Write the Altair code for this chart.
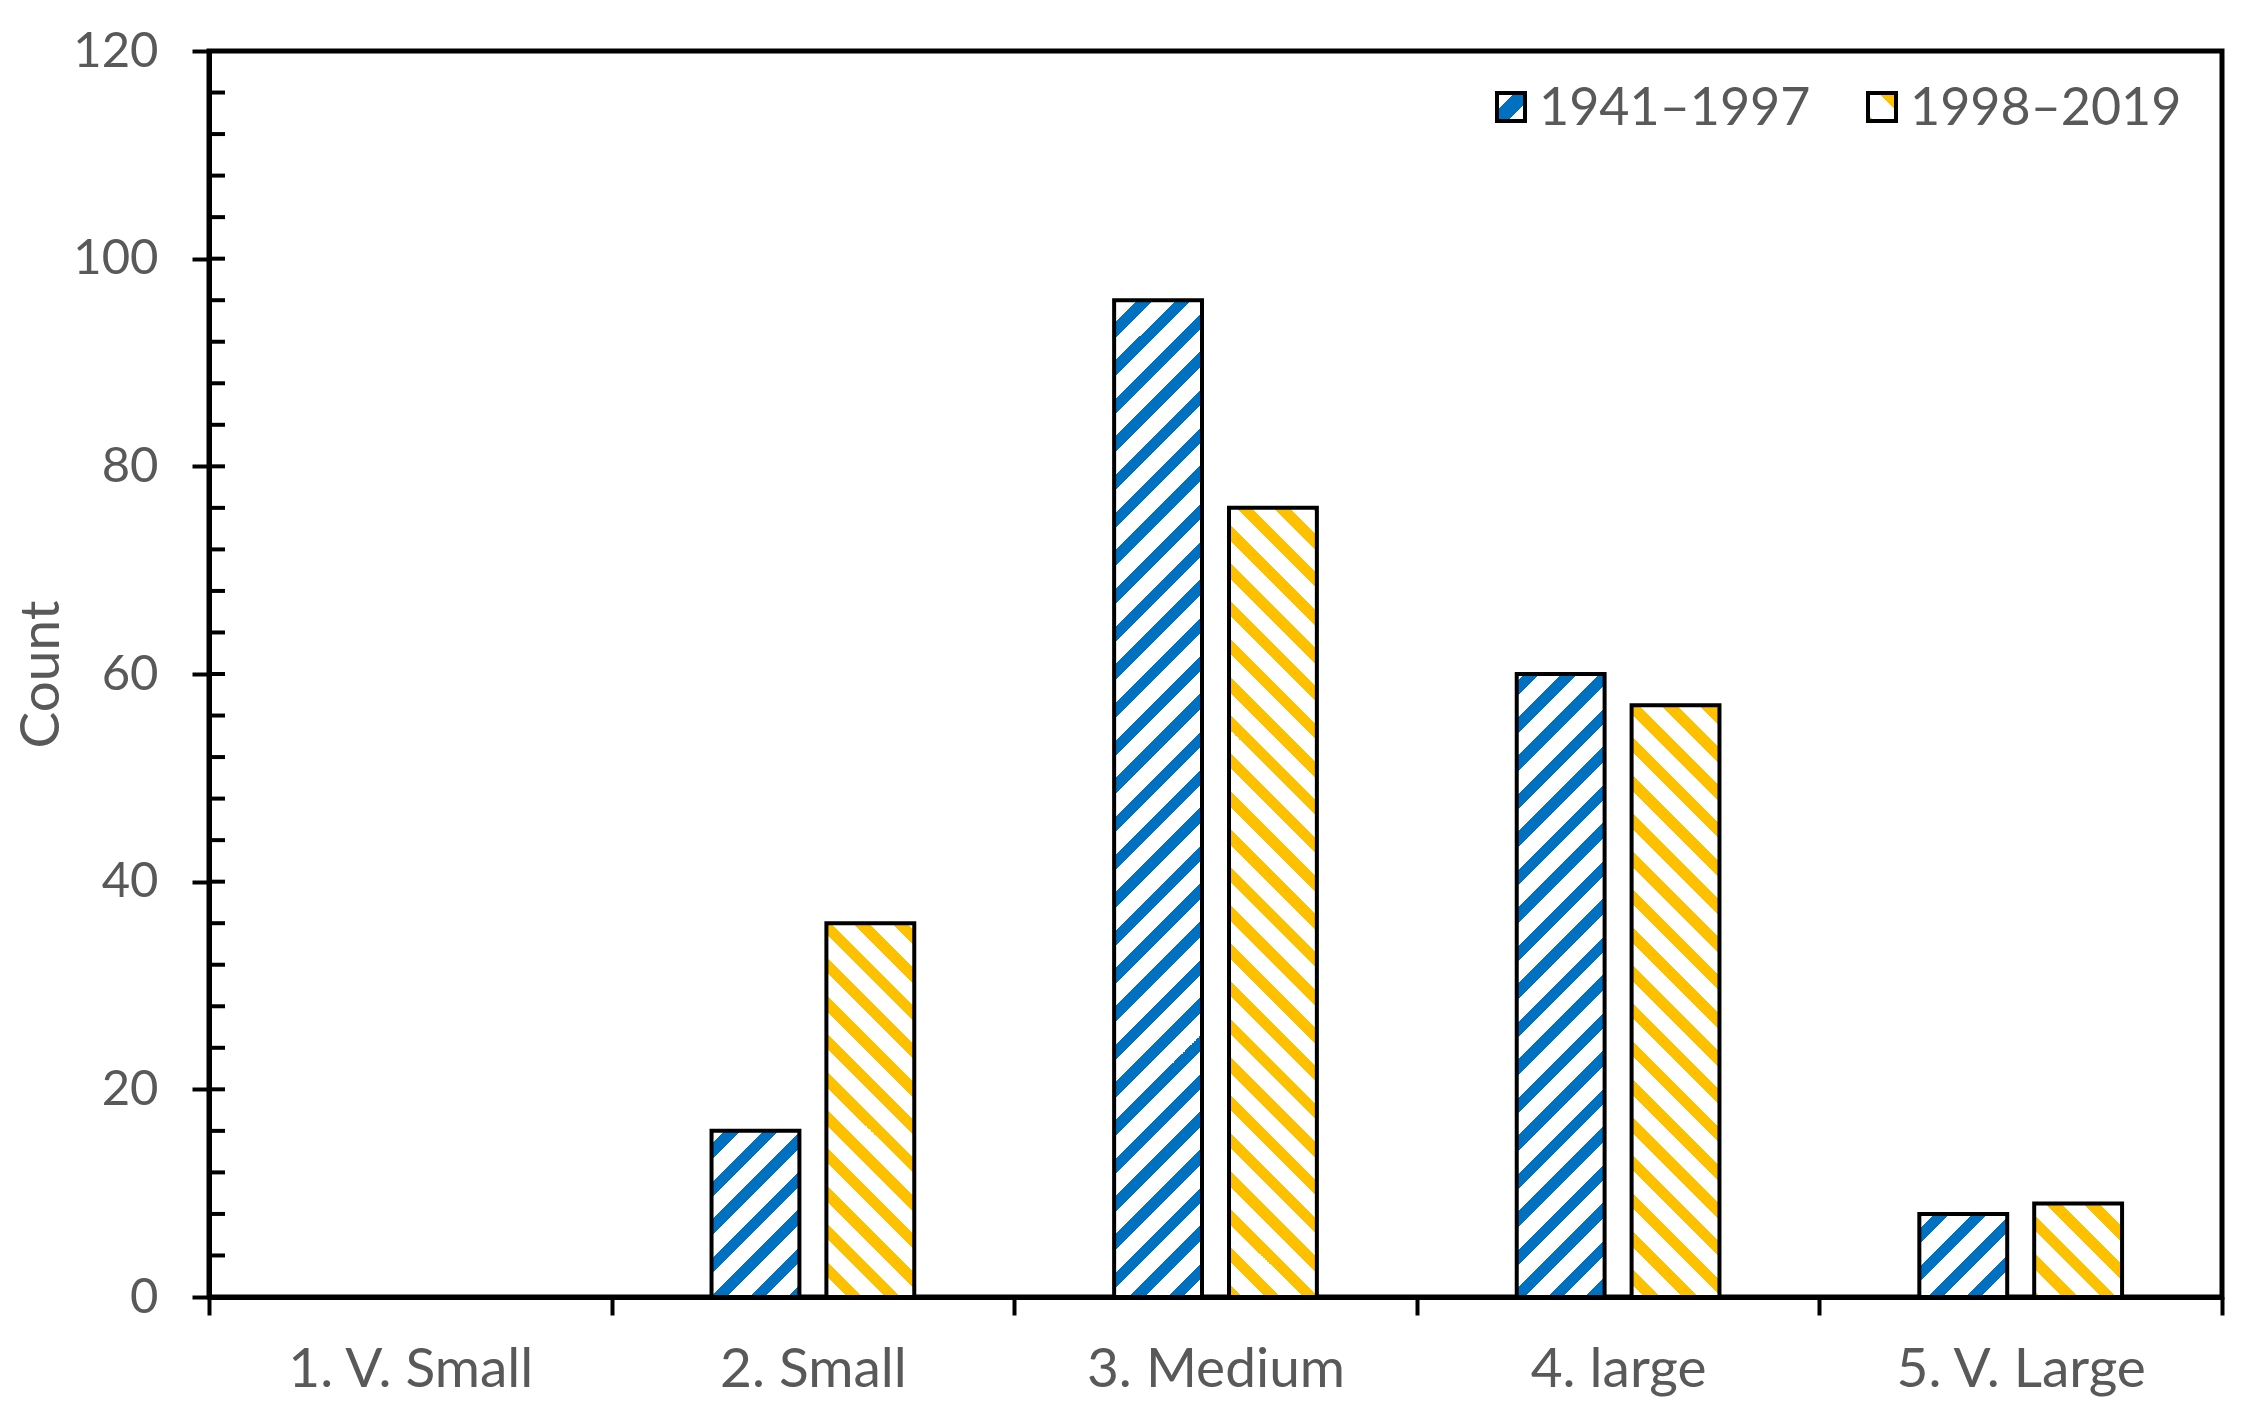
import altair as alt
import pandas as pd

# ---------------- data ----------------
categories = ["1. V. Small", "2. Small", "3. Medium", "4. large", "5. V. Large"]
series = ["1941–1997", "1998–2019"]
values_early = [0, 16, 96, 60, 8]
values_late = [0, 36, 76, 57, 9]
y_ticks = [0, 20, 40, 60, 80, 100, 120]
minor_ticks = [0, 4, 8, 12, 16, 20, 24, 28, 32, 36, 40, 44, 48, 52, 56, 60,
               64, 68, 72, 76, 80, 84, 88, 92, 96, 100, 104, 108, 112, 116, 120]

# ---------------- style / layout ----------------
W, H = 2013, 1246
YMAX = 120
BLUE = "#0070C0"
ORANGE = "#FFC000"
GRAY = "#595959"
FONT = "Lato"
PAD_IN, PAD_OUT = 0.235, 0.87
Q = 1.0            # stripe slope (45 degrees)
VPERIOD = 38.0     # vertical stripe period in pixels
PERIOD = VPERIOD * Q
FRAC = 0.42        # coloured fraction of each stripe period

step_cat = W / len(categories)
step_off = step_cat / (len(series) - PAD_IN + 2 * PAD_OUT)
bar_w = step_off * (1 - PAD_IN)


def stripe_gradient(color, x0, y0, w, h, up):
    """Hatched look: linear gradient with hard stops (diagonal stripes)."""
    L = w + Q * h
    den = w * w + Q * Q * h * h
    a = w * (w + Q * h) / den
    b = Q * h * (w + Q * h) / den
    if up:
        G0 = x0 + Q * y0
        gx1, gy1, gx2, gy2 = 0, 0, a, b
    else:
        G0 = x0 - Q * (y0 + h)
        gx1, gy1, gx2, gy2 = 0, 1, a, 1 - b
    stops = [alt.GradientStop(color="white", offset=0)]
    s = ((-G0) % PERIOD) - PERIOD
    while s < L:
        lo, hi = max(s, 0.0), min(s + FRAC * PERIOD, L)
        if hi > lo:
            o1, o2 = round(lo / L, 6), round(hi / L, 6)
            stops += [alt.GradientStop(color="white", offset=o1),
                      alt.GradientStop(color=color, offset=o1),
                      alt.GradientStop(color=color, offset=o2),
                      alt.GradientStop(color="white", offset=o2)]
        s += PERIOD
    stops.append(alt.GradientStop(color="white", offset=1))
    return alt.LinearGradient(gradient="linear", stops=stops,
                              x1=gx1, y1=gy1, x2=gx2, y2=gy2)


df = pd.DataFrame({
    "category": categories * 2,
    "series": [series[0]] * len(categories) + [series[1]] * len(categories),
    "value": values_early + values_late,
})
ticks_df = pd.DataFrame({"value": minor_ticks})

x_enc = alt.X(
    "category:N",
    scale=alt.Scale(domain=categories, paddingInner=0, paddingOuter=0),
    axis=alt.Axis(title=None, labelAngle=0, tickBand="extent", tickSize=18,
                  labelPadding=28, labelFontSize=55, labelLimit=0, grid=False),
)
xoff_enc = alt.XOffset(
    "series:N",
    scale=alt.Scale(domain=series, paddingInner=PAD_IN, paddingOuter=PAD_OUT),
)
y_scale = alt.Scale(domain=[0, YMAX], nice=False, zero=True)
y_axis = alt.Axis(values=y_ticks, title="Count", tickSize=17, labelPadding=34,
                  labelFontSize=49, titleFontSize=55, titlePadding=2, grid=False,
                  titleFontWeight="normal", titleColor=GRAY, labelLimit=0)
y_enc = alt.Y("value:Q", scale=y_scale, axis=y_axis)

layers = []

# minor (inside) ticks on the y axis
layers.append(
    alt.Chart(ticks_df).mark_rule(color="black", strokeWidth=4).encode(
        y=y_enc, x=alt.value(0), x2=alt.value(16)
    )
)

# bars
for j, (s_name, vals, col) in enumerate(
        [(series[0], values_early, BLUE), (series[1], values_late, ORANGE)]):
    for i, (cat, v) in enumerate(zip(categories, vals)):
        if v <= 0:
            continue
        h = v / YMAX * H
        x0 = i * step_cat + step_off * (PAD_OUT + j)
        y0 = H - h
        grad = stripe_gradient(col, x0, y0, bar_w, h, up=(j == 0))
        layers.append(
            alt.Chart(df)
            .transform_filter((alt.datum.category == cat) & (alt.datum.series == s_name))
            .mark_bar(fill=grad, stroke="black", strokeWidth=4, strokeJoin="miter")
            .encode(x=x_enc, xOffset=xoff_enc, y=y_enc)
        )

# legend
leg_df = pd.DataFrame({"series": series})
sw_blue = alt.LinearGradient(
    gradient="linear", x1=0, y1=0, x2=1, y2=1,
    stops=[alt.GradientStop(color="white", offset=0),
           alt.GradientStop(color="white", offset=0.32),
           alt.GradientStop(color=BLUE, offset=0.32),
           alt.GradientStop(color=BLUE, offset=0.68),
           alt.GradientStop(color="white", offset=0.68),
           alt.GradientStop(color="white", offset=1)])
sw_orange = alt.LinearGradient(
    gradient="linear", x1=0, y1=1, x2=1, y2=0,
    stops=[alt.GradientStop(color=ORANGE, offset=0),
           alt.GradientStop(color=ORANGE, offset=0.12),
           alt.GradientStop(color="white", offset=0.12),
           alt.GradientStop(color="white", offset=0.68),
           alt.GradientStop(color=ORANGE, offset=0.68),
           alt.GradientStop(color=ORANGE, offset=1)])

legend_items = [(series[0], sw_blue, 1302, 1330), (series[1], sw_orange, 1673, 1701)]
for name, sw, sx, tx in legend_items:
    sub = leg_df[leg_df["series"] == name]
    layers.append(
        alt.Chart(sub).mark_point(shape="square", filled=True, fill=sw, stroke="black",
                                  strokeWidth=4, size=784, opacity=1)
        .encode(x=alt.value(sx), y=alt.value(56))
    )
    layers.append(
        alt.Chart(sub).mark_text(align="left", baseline="middle", font=FONT,
                                 fontSize=52, color=GRAY)
        .encode(x=alt.value(tx), y=alt.value(58), text="series:N")
    )

chart = (
    alt.layer(*layers)
    .properties(
        width=W, height=H,
        autosize=alt.AutoSizeParams(type="none"),
        padding={"left": 201, "top": 43, "right": 13, "bottom": 100},
        background="white",
    )
    .configure_view(stroke="black", strokeWidth=5)
    .configure_axis(
        domainColor="black", domainWidth=5, tickColor="black", tickWidth=4,
        labelFont=FONT, labelColor=GRAY, titleFont=FONT, titleColor=GRAY,
    )
)

chart.save("out.html", embed_options={"renderer": "svg", "actions": False})
